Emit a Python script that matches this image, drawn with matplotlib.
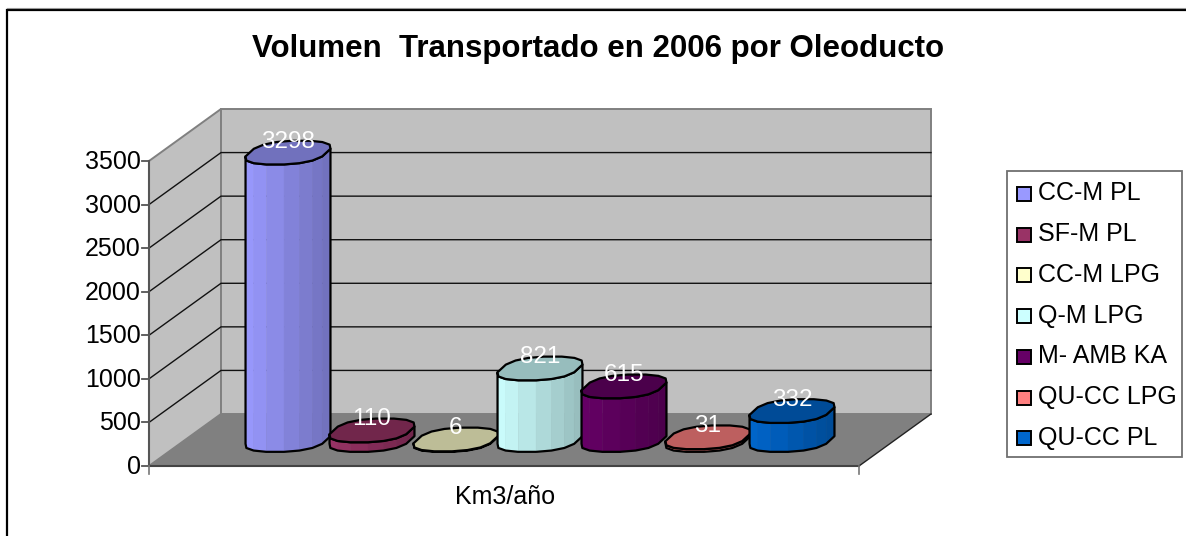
import numpy as np
import matplotlib
matplotlib.use('Agg')
import matplotlib.pyplot as plt
from matplotlib.patches import Polygon, Rectangle
from matplotlib.colors import to_rgb

names = ['CC-M PL', 'SF-M PL', 'CC-M LPG', 'Q-M LPG', 'M- AMB KA', 'QU-CC LPG', 'QU-CC PL']
values = [3298, 110, 6, 821, 615, 31, 332]
colors = ['#9999FF', '#993366', '#FFFFCC', '#CCFFFF', '#660066', '#FF8080', '#0066CC']
yticks = [0, 500, 1000, 1500, 2000, 2500, 3000, 3500]

W, H = 1186, 536
PX_PER_VAL = 305 / 3500
PX_PER_BAR = 84
X0, Y0 = 288, 440   # pixel of first bar's base centre
DX, DY = 36, 26     # half depth of the floor in pixels

fig = plt.figure(figsize=(W / 100, H / 100), dpi=100)
plt.rcParams['font.family'] = ['Liberation Sans', 'DejaVu Sans']

# background axes in pixels, for frame and legend
bg = fig.add_axes([0, 0, 1, 1])
bg.set_xlim(0, W)
bg.set_ylim(H, 0)
bg.axis('off')
bg.plot([6.5, 6.5, W], [H, 9.5, 9.5], color='black', lw=1.6, solid_joinstyle='miter')
bg.plot([7, W], [8, 8], color='#999999', lw=0.8)

# chart axes: x is bar number, y is the value on the plane of the bars
ax = fig.add_axes([0, 0, 1, 1])
ax.patch.set_alpha(0)
ax.set_xlim(-X0 / PX_PER_BAR, (W - X0) / PX_PER_BAR)
ax.set_ylim((Y0 - H) / PX_PER_VAL, Y0 / PX_PER_VAL)
ax.axis('off')

ddx = DX / PX_PER_BAR
ddv = DY / PX_PER_VAL
left = (185 - X0) / PX_PER_BAR   # depth middle of left wall
right = (895 - X0) / PX_PER_BAR
top = yticks[-1]

wall = '#C0C0C0'
edge = '#808080'
ax.add_patch(Polygon([(left - ddx, -ddv), (left + ddx, ddv), (left + ddx, top + ddv), (left - ddx, top - ddv)],
                     fc=wall, ec=edge, lw=1.4, zorder=1))
ax.add_patch(Polygon([(left + ddx, ddv), (right + ddx, ddv), (right + ddx, top + ddv), (left + ddx, top + ddv)],
                     fc=wall, ec=edge, lw=1.4, zorder=1))
ax.add_patch(Polygon([(left - ddx, -ddv), (right - ddx, -ddv), (right + ddx, ddv), (left + ddx, ddv)],
                     fc='#808080', ec='none', zorder=1))

for v in yticks[1:-1]:
    ax.plot([left - ddx, left + ddx, right + ddx], [v - ddv, v + ddv, v + ddv],
            color='#111111', lw=1.0, zorder=2)

# axis lines and ticks
tick_len = 7 / PX_PER_BAR
ax.plot([left - ddx, left - ddx], [-ddv, top - ddv], color='#555555', lw=1.5, zorder=3)
ax.plot([left - ddx, right - ddx], [-ddv, -ddv], color='#444444', lw=1.5, zorder=3)
ax.plot([right - ddx, right + ddx], [-ddv, ddv], color='#222222', lw=1.0, zorder=3)
for v in yticks:
    ax.plot([left - ddx - tick_len, left - ddx], [v - ddv, v - ddv], color='#555555', lw=1.3, zorder=3)
    ax.text(left - ddx - 1.2 * tick_len, v - ddv - 1 / PX_PER_VAL, str(v), ha='right', va='center',
            fontsize=18, color='black')
for xt in [left - ddx, right - ddx]:
    ax.plot([xt, xt], [-ddv, -ddv - 8 / PX_PER_VAL], color='#777777', lw=1.2, zorder=3)

# oblique circle for the cylinders, a bit boxy and with few sides like the original
ux, vx = 39 / PX_PER_BAR, 13 / PX_PER_BAR
vv = 12 / PX_PER_VAL
t = np.linspace(0, 2 * np.pi, 17)[:-1] + np.pi / 16
ct = np.sign(np.cos(t)) * np.abs(np.cos(t)) ** 0.9
st = np.sign(np.sin(t)) * np.abs(np.sin(t)) ** 0.7


def ring(i, level):
    return i + ux * ct + vx * st, level + vv * st


for i, (val, col) in enumerate(zip(values, colors)):
    rgb = np.array(to_rgb(col))
    z = 5 + i * 2
    xb, yb = ring(i, 0)
    xt, yt = ring(i, val)
    # front side of the ring, left to right
    start = np.argmin(xb)
    order = [(start + k) % len(t) for k in range(len(t))]
    end = order.index(np.argmax(xb))
    front = order[:end + 1]
    # outline of the whole body
    body = list(zip(xb[front], yb[front])) + list(zip(xt[front][::-1], yt[front][::-1]))
    for a, b in zip(front[:-1], front[1:]):
        frac = (xb[a] + xb[b]) / 2 - xb[front[0]]
        frac = frac / (xb[front[-1]] - xb[front[0]])
        shade = rgb * (1 - 0.27 * frac)
        ax.add_patch(Polygon([(xb[a], yb[a]), (xb[b], yb[b]), (xt[b], yt[b]), (xt[a], yt[a])],
                             fc=shade, ec=shade, lw=0.4, zorder=z))
    ax.add_patch(Polygon(body, fc='none', ec='black', lw=1.6, joinstyle='round', zorder=z + 1))
    ax.add_patch(Polygon(list(zip(xt, yt)), fc=rgb * 0.74, ec='black', lw=1.6, joinstyle='round', zorder=z + 1))
    ax.text(i, val + 11 / PX_PER_VAL, str(val), ha='center', va='center', fontsize=17.5,
            color='white', zorder=40)

bg.text(598.5, 49, 'Volumen  Transportado en 2006 por Oleoducto', ha='center', va='center',
        fontsize=22.5, fontweight='bold', color='black')
bg.text(505, 497, 'Km3/año', ha='center', va='center', fontsize=18, color='black')

# legend
leg = fig.add_axes([0, 0, 1, 1])
leg.patch.set_alpha(0)
leg.set_xlim(0, W)
leg.set_ylim(H, 0)
leg.axis('off')
leg.add_patch(Rectangle((1007, 171), 175, 286, fc='white', ec='#707070', lw=1.3))
for i, (name, col) in enumerate(zip(names, colors)):
    y = 193.5 + i * 40.7
    leg.add_patch(Rectangle((1016.5, y - 6.5), 14, 14, fc=col, ec='black', lw=1.4))
    leg.text(1038, y, name, ha='left', va='center', fontsize=18, color='black')

fig.savefig('out.png', dpi=100)
